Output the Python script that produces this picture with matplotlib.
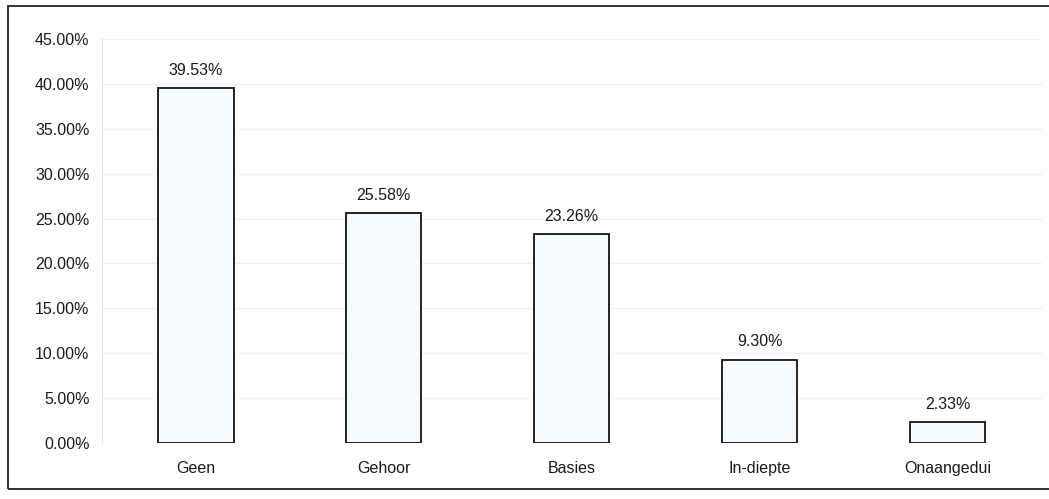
import matplotlib
matplotlib.use("Agg")
import matplotlib.pyplot as plt
from matplotlib.patches import Rectangle
from matplotlib.ticker import FuncFormatter, MultipleLocator

# Categories and percentage of respondents per category
categories = ["Geen", "Gehoor", "Basies", "In-diepte", "Onaangedui"]
percentages = [39.53, 25.58, 23.26, 9.30, 2.33]
value_labels = ["39.53%", "25.58%", "23.26%", "9.30%", "2.33%"]

plt.rcParams["font.family"] = ["Liberation Sans", "DejaVu Sans"]

fig = plt.figure(figsize=(10.49, 4.99), dpi=100)
ax = fig.add_axes([0.0972, 0.1122, 0.8958, 0.8096])

x = list(range(len(categories)))
bars = ax.bar(x, percentages, width=0.40, color="#f7fafd",
              edgecolor="#111111", linewidth=1.3, zorder=3)

for rect, lab in zip(bars, value_labels):
    ax.annotate(lab, (rect.get_x() + rect.get_width() / 2, rect.get_height()),
                xytext=(0, 13), textcoords="offset points",
                ha="center", va="center", fontsize=11.5, color="#1a1a1a")

ax.set_xlim(-0.5, len(categories) - 0.5)
ax.set_ylim(0, 45)
ax.yaxis.set_major_locator(MultipleLocator(5))
ax.yaxis.set_major_formatter(FuncFormatter(lambda v, _: f"{v:.2f}%"))
ax.set_xticks(x)
ax.set_xticklabels(categories)

ax.tick_params(axis="both", length=0, labelsize=11.5, colors="#1a1a1a")
ax.tick_params(axis="y", pad=9)
ax.tick_params(axis="x", pad=13)

ax.grid(axis="y", color="#f1f1f1", linewidth=1.0, zorder=0)
for side in ["top", "right", "bottom"]:
    ax.spines[side].set_visible(False)
ax.spines["left"].set_color("#e0e0e0")

# outer chart border
fig.patches.append(Rectangle((8 / 1049, 1 - 489 / 499), 1.2, (489 - 6) / 499,
                             transform=fig.transFigure, fill=False,
                             edgecolor="#222222", linewidth=1.3))

fig.savefig("out.png", dpi=100)
